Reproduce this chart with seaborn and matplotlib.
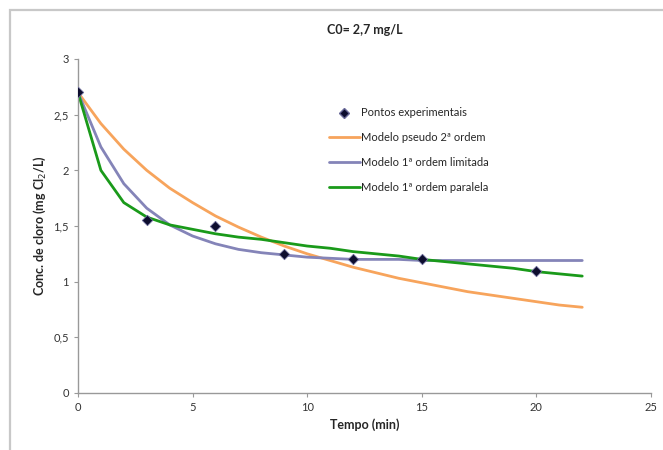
import matplotlib
matplotlib.use("Agg")
import matplotlib.pyplot as plt
import seaborn as sns
import pandas as pd
from matplotlib.patches import Rectangle
from matplotlib.lines import Line2D

# experimental points
t_exp = [0, 3, 6, 9, 12, 15, 20]
c_exp = [2.7, 1.55, 1.5, 1.25, 1.2, 1.2, 1.1]

# model curves (1 min steps)
t_mod = list(range(0, 23))
c_pseudo2 = [2.70, 2.42, 2.19, 2.00, 1.84, 1.71, 1.59, 1.49, 1.40, 1.32, 1.25, 1.19,
             1.13, 1.08, 1.03, 0.99, 0.95, 0.91, 0.88, 0.85, 0.82, 0.79, 0.77]
c_limitada = [2.70, 2.21, 1.88, 1.66, 1.51, 1.41, 1.34, 1.29, 1.26, 1.24, 1.22, 1.21,
              1.20, 1.20, 1.20, 1.19, 1.19, 1.19, 1.19, 1.19, 1.19, 1.19, 1.19]
c_paralela = [2.70, 2.00, 1.71, 1.58, 1.51, 1.47, 1.43, 1.40, 1.38, 1.35, 1.32, 1.30,
              1.27, 1.25, 1.23, 1.20, 1.18, 1.16, 1.14, 1.12, 1.09, 1.07, 1.05]

labels = ["Pontos experimentais", "Modelo pseudo 2ª ordem",
          "Modelo 1ª ordem limitada", "Modelo 1ª ordem paralela"]

sns.set_style("white")
plt.rcParams['font.family'] = ['Lato', 'DejaVu Sans']

fig = plt.figure(figsize=(6.63, 4.5), dpi=100)
ax = fig.add_axes([0.1176, 0.1267, 0.8643, 0.7422])

# gray chart frame
fig.patches.append(Rectangle((10 / 663, -0.05), 1.1, 1 - 10 / 450 + 0.05,
                             transform=fig.transFigure, fill=False,
                             edgecolor="#c8c8c8", linewidth=1.6))

models = pd.DataFrame({"t": t_mod * 3,
                       "c": c_pseudo2 + c_limitada + c_paralela,
                       "modelo": [labels[1]] * 23 + [labels[2]] * 23 + [labels[3]] * 23})
palette = {labels[1]: "#F7A45C", labels[2]: "#8484B8", labels[3]: "#1A9A1A"}

sns.lineplot(data=models, x="t", y="c", hue="modelo", palette=palette,
             linewidth=2.0, ax=ax, legend=False)
sns.scatterplot(x=t_exp, y=c_exp, marker="D", s=28, color="#0d0d2e",
                edgecolor="#6a6a9a", linewidth=0.6, ax=ax, zorder=5)

ax.set_xlim(0, 25)
ax.set_ylim(0, 3)
ax.set_xticks([0, 5, 10, 15, 20, 25])
ax.set_yticks([0, 0.5, 1, 1.5, 2, 2.5, 3])
ax.set_yticklabels(["0", "0,5", "1", "1,5", "2", "2,5", "3"])
ax.tick_params(axis="both", labelsize=8, colors="#333333", length=3,
               direction="out", left=True, bottom=True, color="#999999")
for s in ["top", "right"]:
    ax.spines[s].set_visible(False)
for s in ["left", "bottom"]:
    ax.spines[s].set_color("#999999")
    ax.spines[s].set_linewidth(1.0)

ax.set_xlabel("Tempo (min)", fontsize=9, fontweight="bold")
ax.set_ylabel("Conc. de cloro (mg Cl$_2$/L)", fontsize=9, fontweight="bold")
ax.set_title("C0= 2,7 mg/L", fontsize=9, fontweight="bold", pad=18)

handles = [Line2D([], [], marker="D", linestyle="none", markersize=5,
                  color="#0d0d2e", markeredgecolor="#6a6a9a"),
           Line2D([], [], color=palette[labels[1]], linewidth=2),
           Line2D([], [], color=palette[labels[2]], linewidth=2),
           Line2D([], [], color=palette[labels[3]], linewidth=2)]
ax.legend(handles, labels, loc="upper left", bbox_to_anchor=(0.42, 0.885),
          frameon=False, fontsize=8, handlelength=2.8, handletextpad=0.1,
          labelspacing=1.25)

fig.savefig("out.png", dpi=100)
